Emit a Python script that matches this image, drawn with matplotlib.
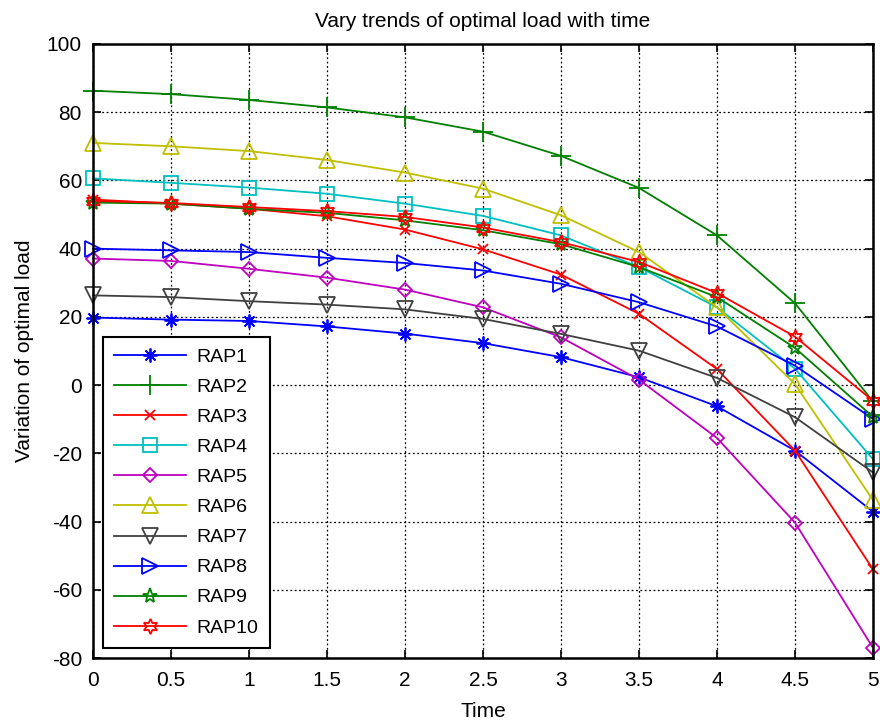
"""Optimal load trends of the RAPs over time."""
import matplotlib
matplotlib.use('Agg')
import matplotlib.pyplot as plt

time = [0, 0.5, 1, 1.5, 2, 2.5, 3, 3.5, 4, 4.5, 5]

rap1 = [19.8, 19.2, 18.8, 17.2, 15.1, 12.3, 8.2, 2.3, -6.2, -19.2, -37.1]
rap2 = [86.3, 85.3, 83.6, 81.4, 78.5, 74.3, 67.2, 57.8, 43.9, 24.0, -4.8]
rap3 = [54.4, 53.2, 51.7, 49.5, 45.6, 39.8, 32.4, 20.9, 4.7, -19.2, -54.0]
rap4 = [60.6, 59.3, 57.9, 56.1, 53.2, 49.6, 43.9, 34.6, 22.8, 4.8, -21.7]
rap5 = [37.1, 36.4, 34.1, 31.5, 28.0, 22.8, 14.0, 1.6, -15.5, -40.3, -77.0]
rap6 = [71.0, 70.0, 68.6, 66.0, 62.3, 57.6, 49.8, 39.0, 22.8, 0.3, -33.7]
rap7 = [26.3, 25.8, 24.6, 23.6, 22.2, 19.4, 15.0, 10.1, 2.1, -9.4, -25.6]
rap8 = [40.0, 39.5, 39.0, 37.3, 35.8, 33.6, 29.7, 24.3, 17.2, 5.7, -9.9]
rap9 = [53.5, 53.2, 51.7, 50.5, 48.3, 45.4, 41.3, 34.6, 25.8, 10.9, -9.3]
rap10 = [54.0, 53.4, 52.2, 51.0, 49.3, 46.2, 41.9, 36.1, 27.0, 14.2, -4.6]

series = [rap1, rap2, rap3, rap4, rap5, rap6, rap7, rap8, rap9, rap10]
labels = ['RAP1', 'RAP2', 'RAP3', 'RAP4', 'RAP5',
          'RAP6', 'RAP7', 'RAP8', 'RAP9', 'RAP10']

colors = ['#0000ff', '#008000', '#ff0000', '#00bfbf', '#bf00bf',
          '#bfbf00', '#404040', '#0000ff', '#008000', '#ff0000']
markers = [(8, 2, 0), '+', 'x', 's', 'D', '^', 'v', '>', '*', (6, 1, 0)]
sizes = [10, 14, 7, 10, 7.5, 12, 12, 12, 11, 11]

plt.rcParams['font.family'] = ['Liberation Sans', 'DejaVu Sans']
plt.rcParams['axes.unicode_minus'] = False

fig = plt.figure(figsize=(8.8, 7.27), dpi=100)
ax = fig.add_axes([0.1057, 0.0949, 0.8863, 0.8446])

for values, label, color, marker, size in zip(series, labels, colors, markers, sizes):
    ax.plot(time, values, color=color, marker=marker, markersize=size,
            markerfacecolor='none', markeredgecolor=color, markeredgewidth=1.3,
            linewidth=1.3, label=label, clip_on=False, zorder=3)

ax.set_xlim(0, 5)
ax.set_ylim(-80, 100)
ax.set_xticks(time)
ax.set_xticklabels(['0', '0.5', '1', '1.5', '2', '2.5', '3', '3.5', '4', '4.5', '5'])
ax.set_yticks(range(-80, 101, 20))
ax.grid(True, color='black', linestyle=(0, (1.5, 2)), linewidth=0.9)
ax.tick_params(direction='in', length=6, width=1.2, top=True, right=True,
               labelsize=15)
ax.tick_params(axis='x', pad=9)
ax.tick_params(axis='y', pad=8)
for spine in ax.spines.values():
    spine.set_linewidth(1.8)
    spine.set_zorder(4)

ax.set_title('Vary trends of optimal load with time', fontsize=15, pad=12)
ax.set_xlabel('Time', fontsize=15, labelpad=9)
ax.set_ylabel('Variation of optimal load', fontsize=15, labelpad=9)

leg = ax.legend(loc='lower left', bbox_to_anchor=(0.0124, 0.016), borderaxespad=0,
                fontsize=14, fancybox=False, framealpha=1, edgecolor='black',
                handlelength=3.7, handletextpad=0.5, labelspacing=0.64,
                borderpad=0.6)
leg.get_frame().set_linewidth(1.5)
leg.set_zorder(5)

fig.savefig('out.png', dpi=100)
